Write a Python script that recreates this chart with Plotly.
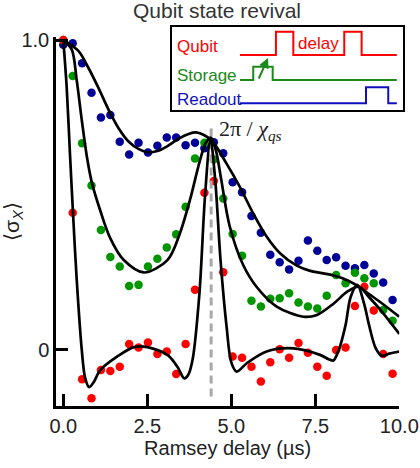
import plotly.graph_objects as go

# ---------------- data ----------------
times = [0.0, 0.28, 0.56, 0.84, 1.12, 1.40, 1.68, 1.96, 2.24, 2.52, 2.80, 3.08,
         3.36, 3.64, 3.92, 4.20, 4.48, 4.76, 5.04, 5.32, 5.60, 5.88, 6.16, 6.44,
         6.72, 7.00, 7.28, 7.56, 7.84, 8.12, 8.40, 8.68, 8.96, 9.24, 9.52, 9.80]

blue_vals = [0.985, 0.99, 0.925, 0.83, 0.75, 0.758, 0.672, 0.631, 0.669, 0.637, 0.659, 0.686,
             0.686, 0.661, 0.669, 0.651, 0.67, 0.635, 0.541, 0.509, 0.432, 0.378, 0.307, 0.283,
             0.260, 0.288, 0.353, 0.320, 0.290, 0.299, 0.272, 0.264, 0.274, 0.247, 0.218, 0.161]

green_vals = [1.0, 0.884, 0.667, 0.531, 0.387, 0.300, 0.269, 0.206, 0.21, 0.269, 0.294, 0.331,
              0.373, 0.462, 0.618, 0.669, 0.615, 0.489, 0.374, 0.304, 0.159, 0.140, 0.165, 0.167,
              0.183, 0.153, 0.140, 0.134, 0.175, 0.242, 0.215, 0.249, 0.231, 0.215, 0.129, 0.094]

red_vals = [1.0, 0.443, -0.095, -0.156, -0.065, -0.068, -0.054, 0.019, 0.008, 0.024, -0.013, -0.005,
            -0.078, 0.019, 0.194, 0.507, 0.545, 0.251, -0.021, -0.025, -0.054, -0.102, -0.040, 0.002,
            -0.025, 0.022, -0.009, -0.054, -0.083, 0.0, 0.008, 0.142, 0.204, 0.127, -0.013, -0.077]

# fit curves
blue_fit_t = [0, 0.45, 0.75, 1.05, 1.35, 1.65, 1.95, 2.25, 2.5, 2.8, 3.1, 3.45, 3.75, 3.95,
              4.2, 4.45, 4.85, 5.25, 5.65, 6.05, 6.45, 6.95, 7.35, 7.7, 8.05, 8.45, 8.8, 9.1,
              9.45, 10.0]
blue_fit_v = [1.0, 0.965, 0.91, 0.845, 0.775, 0.715, 0.672, 0.648, 0.638, 0.642, 0.658, 0.683,
              0.698, 0.702, 0.693, 0.672, 0.603, 0.527, 0.441, 0.366, 0.312, 0.272, 0.255, 0.248,
              0.240, 0.225, 0.204, 0.18, 0.153, 0.107]

green_fit_t = [0, 0.25, 0.4, 0.55, 0.7, 0.85, 1.1, 1.4, 1.8, 2.4, 3.1, 3.45, 3.77, 4.07, 4.25,
               4.4, 4.55, 4.7, 4.95, 5.35, 5.75, 6.35, 7.15, 7.55, 8.05, 8.45, 8.8, 9.1, 9.45, 10.0]
green_fit_v = [1.0, 0.97, 0.87, 0.742, 0.625, 0.54, 0.45, 0.36, 0.29, 0.25, 0.29, 0.37, 0.484,
               0.613, 0.67, 0.685, 0.64, 0.55, 0.40, 0.275, 0.204, 0.14, 0.107, 0.113, 0.15,
               0.188, 0.204, 0.17, 0.128, 0.052]

red_fit_t = [0, 0.1, 0.2, 0.3, 0.4, 0.55, 0.65, 0.77, 0.9, 1.1, 1.6, 2.1, 2.5, 3.1, 3.4, 3.6,
             3.72, 3.85, 4.05, 4.22, 4.38, 4.52, 4.68, 4.86, 5.0, 5.16, 5.46, 6.05, 6.85, 7.64,
             7.9, 8.04, 8.2, 8.4, 8.55, 8.75, 8.95, 9.1, 9.3, 9.48, 9.7, 10.0]
red_fit_v = [1.0, 0.85, 0.63, 0.42, 0.226, 0.0, -0.09, -0.12, -0.105, -0.065, -0.022, 0.009,
             0.009, -0.016, -0.055, -0.092, -0.08, -0.03, 0.18, 0.5, 0.68, 0.55, 0.29, 0.075,
             -0.04, -0.07, -0.043, -0.005, 0.005, -0.016, -0.03, -0.034, 0.0, 0.08, 0.17, 0.21,
             0.15, 0.08, 0.005, -0.019, -0.012, -0.005]

revival_t = [4.4, 4.4]
revival_v = [-0.15, 0.73]

x_tickvals = [0, 2.5, 5, 7.5, 10]
x_ticktext = ["0.0", "2.5", "5.0", "7.5", "10.0"]
y_tickvals = [0, 1]
y_ticktext = ["0", "1.0"]

# inset pulse-sequence schematic (inset units 0-100)
qubit_x = [29.5, 45.0, 45.0, 52.5, 52.5, 74.5, 74.5, 82.0, 82.0, 97.2]
qubit_y = [66, 66, 94, 94, 66, 66, 94, 94, 66, 66]
storage_x = [29.5, 35.2, 35.2, 43.6, 43.6, 97.2]
storage_y = [36, 36, 52, 52, 36, 36]
readout_x = [29.5, 83.9, 83.9, 93.5, 93.5, 97.2]
readout_y = [8, 8, 27.3, 27.3, 8, 8]

RED = "#ff0000"
GREEN = "#009600"
BLUE = "#000099"
INS_GREEN = "#1a8a1a"
INS_BLUE = "#1010c0"
FONT = "Liberation Sans"

fig = go.Figure()

for vals, col in [(blue_vals, BLUE), (green_vals, GREEN), (red_vals, RED)]:
    fig.add_trace(go.Scatter(x=times, y=vals, mode="markers",
                             marker=dict(color=col, size=8.5, line=dict(width=0)),
                             cliponaxis=False, showlegend=False))

fig.add_trace(go.Scatter(x=revival_t, y=revival_v, mode="lines",
                         line=dict(color="#a8a8a8", width=3, dash="8px,5px"),
                         showlegend=False))

for ft, fv in [(blue_fit_t, blue_fit_v), (green_fit_t, green_fit_v), (red_fit_t, red_fit_v)]:
    fig.add_trace(go.Scatter(x=ft, y=fv, mode="lines",
                             line=dict(color="black", width=2.7, shape="spline", smoothing=0.9),
                             showlegend=False))

# inset
for px, py, col in [(qubit_x, qubit_y, RED), (storage_x, storage_y, INS_GREEN),
                    (readout_x, readout_y, INS_BLUE)]:
    fig.add_trace(go.Scatter(x=px, y=py, mode="lines", xaxis="x2", yaxis="y2",
                             line=dict(color=col, width=2), showlegend=False))

inset_labels = [("Qubit", 76, RED), ("Storage", 42, INS_GREEN), ("Readout", 12.8, INS_BLUE)]
for txt, yy, col in inset_labels:
    fig.add_annotation(x=1.6, y=yy, xref="x2", yref="y2", text=txt, showarrow=False,
                       xanchor="left", yanchor="middle", font=dict(family=FONT, size=17, color=col))
fig.add_annotation(x=63.2, y=80, xref="x2", yref="y2", text="delay", showarrow=False,
                   xanchor="center", yanchor="middle", font=dict(family=FONT, size=17, color=RED))
fig.add_annotation(x=41.6, y=62.4, ax=37.3, ay=36, xref="x2", yref="y2", axref="x2", ayref="y2",
                   text="", showarrow=True, arrowhead=2, arrowsize=1, arrowwidth=2,
                   arrowcolor=INS_GREEN)

fig.add_annotation(x=4.57, y=0.71, xref="x", yref="y",
                   text="2π / <i>χ</i><sub><i>qs</i></sub>", showarrow=False,
                   xanchor="left", yanchor="middle",
                   font=dict(family="Liberation Serif", size=22, color="#222222"))

W, H = 420, 468
fig.update_layout(
    width=W, height=H,
    margin=dict(l=56, r=16, t=26, b=62, autoexpand=False),
    paper_bgcolor="white", plot_bgcolor="white",
    title=dict(text="Qubit state revival", x=217 / W, xanchor="center",
               y=1 - 11 / H, yanchor="middle", yref="container", automargin=False,
               font=dict(family=FONT, size=21, color="#333333")),
    xaxis=dict(domain=[0, 0.9865], range=[-0.217, 10.0], showgrid=False, zeroline=False,
               automargin=False,
               showline=True, linecolor="black", linewidth=2.5,
               ticks="inside", ticklen=12, tickwidth=2.5, tickcolor="black",
               tickvals=x_tickvals, ticktext=x_ticktext,
               tickfont=dict(family=FONT, size=20, color="#222222"),
               title=dict(text="Ramsey delay (µs)", font=dict(family=FONT, size=20, color="#222222"),
                          standoff=6)),
    yaxis=dict(domain=[0, 0.971], range=[-0.181, 1.01], showgrid=False, zeroline=False,
               automargin=False,
               showline=True, linecolor="black", linewidth=2.5,
               ticks="inside", ticklen=12, tickwidth=2.5, tickcolor="black",
               tickvals=y_tickvals, ticktext=y_ticktext,
               tickfont=dict(family=FONT, size=20, color="#222222"),
               title=dict(text="⟨σ<sub><i>X</i></sub>⟩", font=dict(family=FONT, size=21, color="#222222"),
                          standoff=6)),
    xaxis2=dict(domain=[0.3325, 0.998], range=[0, 100], anchor="y2", showgrid=False,
                zeroline=False, showticklabels=False, ticks="", showline=True, mirror=True,
                linecolor="black", linewidth=2),
    yaxis2=dict(domain=[0.779, 0.998], range=[0, 100], anchor="x2", showgrid=False,
                zeroline=False, showticklabels=False, ticks="", showline=True, mirror=True,
                linecolor="black", linewidth=2),
)

fig.write_html("out.html", config={"displayModeBar": False},
               post_script="document.body.style.margin='0';document.body.style.overflow='hidden';")
